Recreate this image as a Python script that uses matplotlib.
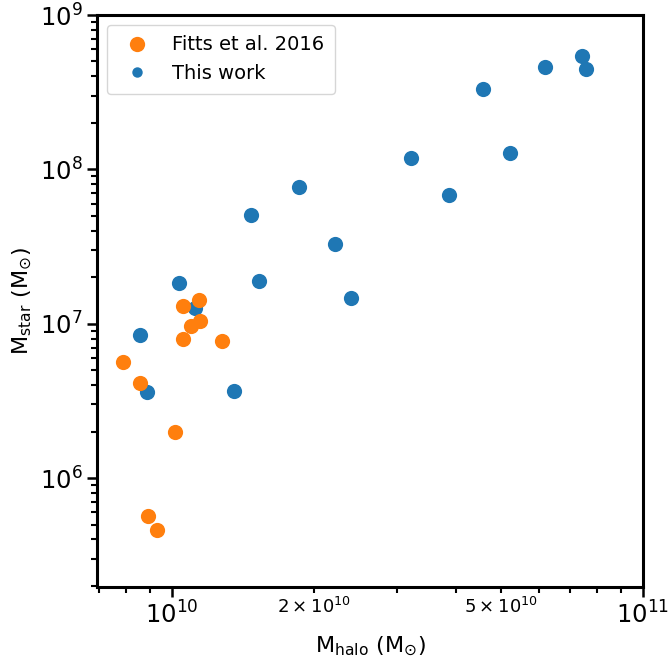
import matplotlib.pyplot as plt
import matplotlib.ticker as ticker
from matplotlib.lines import Line2D
import numpy as np

# Fitts et al. 2016
fitts_mhalo = [7.87e9, 8.55e9, 1.057e10, 1.143e10, 1.096e10, 1.147e10, 1.057e10,
               1.277e10, 1.016e10, 8.88e9, 9.28e9]
fitts_mstar = [5.64e6, 4.12e6, 1.30e7, 1.42e7, 9.64e6, 1.04e7, 7.94e6,
               7.75e6, 1.98e6, 5.72e5, 4.64e5]

# this work
mhalo = [8.53e9, 8.84e9, 1.033e10, 1.119e10, 1.356e10, 1.532e10, 1.472e10,
         1.86e10, 2.22e10, 2.40e10, 3.22e10, 3.87e10, 4.57e10, 5.22e10,
         6.19e10, 7.42e10, 7.57e10]
mstar = [8.39e6, 3.60e6, 1.84e7, 1.27e7, 3.66e6, 1.90e7, 5.06e7,
         7.68e7, 3.28e7, 1.47e7, 1.18e8, 6.81e7, 3.31e8, 1.28e8,
         4.60e8, 5.42e8, 4.47e8]

fig = plt.figure(figsize=(6.71, 6.61), dpi=100)
ax = fig.add_axes([0.1446, 0.112, 0.8137, 0.8653])

ax.scatter(mhalo, mstar, s=120, color='#1f77b4', linewidths=0)
ax.scatter(fitts_mhalo, fitts_mstar, s=120, color='#ff7f0e', linewidths=0)

ax.set_xscale('log')
ax.set_yscale('log')
ax.set_xlim(6.93e9, 1e11)
ax.set_ylim(1.97e5, 1e9)

# minor labels at 2e10 and 5e10 only
def minor_fmt(v, pos):
    m = v / 1e10
    if abs(m - 2) < 0.01:
        return r'$2\times10^{10}$'
    if abs(m - 5) < 0.01:
        return r'$5\times10^{10}$'
    return ''

ax.xaxis.set_minor_formatter(ticker.FuncFormatter(minor_fmt))
ax.yaxis.set_minor_formatter(ticker.NullFormatter())

ax.tick_params(which='major', labelsize=17.5, length=7, width=1.8)
ax.tick_params(which='minor', labelsize=13, length=4, width=1.5)
for sp in ax.spines.values():
    sp.set_linewidth(2.2)

ax.set_xlabel(r'$\mathrm{M_{halo}\ (M_{\odot})}$', fontsize=16)
ax.set_ylabel(r'$\mathrm{M_{star}\ (M_{\odot})}$', fontsize=16)

handles = [
    Line2D([], [], ls='none', marker='o', markersize=11, color='#ff7f0e', mec='none'),
    Line2D([], [], ls='none', marker='o', markersize=7.5, color='#1f77b4', mec='none'),
]
ax.legend(handles, ['Fitts et al. 2016', 'This work'], loc='upper left',
          fontsize=14, handletextpad=0.8, borderpad=0.55)

fig.savefig('out.png', dpi=100)
